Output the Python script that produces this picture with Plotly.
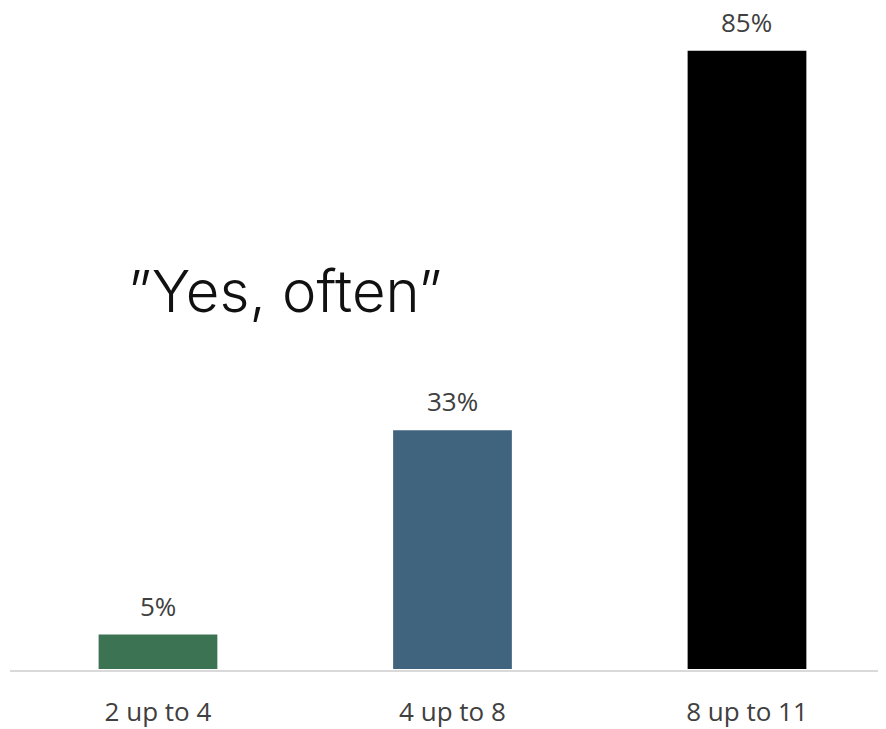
import plotly.graph_objects as go

categories = ["2 up to 4", "4 up to 8", "8 up to 11"]
values = [5, 33, 85]
labels = ["5%", "33%", "85%"]
colors = ["#3c7352", "#41647e", "#000000"]

fig = go.Figure()
fig.add_trace(go.Bar(
    x=list(range(len(categories))), y=values,
    width=0.41,
    marker=dict(color=colors, line=dict(color="white", width=2)),
    hoverinfo="skip",
))
for i, (v, t) in enumerate(zip(values, labels)):
    fig.add_annotation(x=i, y=v, xref="x", yref="y", text=t, showarrow=False,
                       yanchor="bottom", yshift=8,
                       font=dict(family="Open Sans", size=26, color="#404040"))

# page is shown with an 8px body margin, so the figure is offset by 8px
fig.add_annotation(x=(285 - 10) / 876, y=(675 - 293) / 665, xref="paper", yref="paper",
                   text="\u201dYes, often\u201d",
                   showarrow=False, xanchor="center", yanchor="middle",
                   font=dict(family="Inter", size=58, color="#111111", weight=300))

fig.update_layout(
    width=878, height=721,
    margin=dict(l=2, r=0, t=2, b=54),
    paper_bgcolor="white", plot_bgcolor="white",
    showlegend=False,
    xaxis=dict(range=[-0.5025, 2.472], tickmode="array",
               tickvals=list(range(len(categories))), ticktext=categories,
               showline=True, linecolor="#d9d9d9", linewidth=2, layer="below traces",
               showgrid=False, zeroline=False, ticks="", ticklabelstandoff=18,
               tickfont=dict(family="Open Sans", size=26, color="#404040")),
    yaxis=dict(range=[0, 90.44], visible=False, showgrid=False, zeroline=False),
)

fig.write_html("out.html")
